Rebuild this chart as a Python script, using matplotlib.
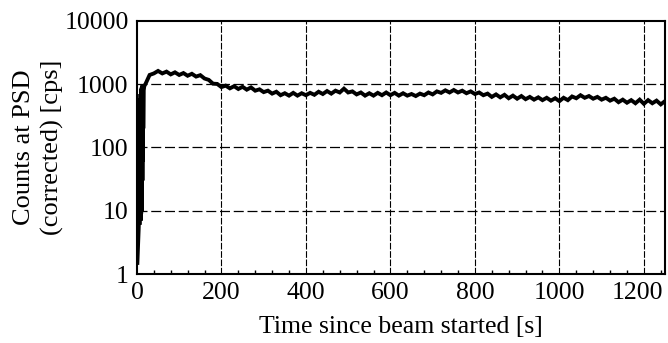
import matplotlib
matplotlib.use("Agg")
import matplotlib.pyplot as plt
from matplotlib.ticker import LogLocator, MultipleLocator, FixedLocator, FixedFormatter
from matplotlib.transforms import ScaledTranslation
import numpy as np

# --- data ---
t_early = [1, 2, 3, 4, 5, 5.5, 6, 6.5, 7, 7.5, 8, 8.5, 9, 9.5, 10, 10.5, 11, 11.5,
           12, 12.5, 13, 13.5, 14, 14.5, 15, 16, 17, 18, 19]
c_early = [1.5, 2.2, 3, 5, 8, 300, 6, 500, 7, 600, 8, 700, 7, 800, 9, 850, 10, 900,
           12, 950, 30, 950, 60, 980, 200, 800, 900, 950, 980]

t_main = list(range(20, 1251, 10))
c_main = [1000, 1400, 1480, 1620, 1480, 1580, 1430, 1540, 1400, 1500,
          1360, 1460, 1320, 1390, 1230, 1170, 1020, 1010, 900, 950,
          860, 930, 840, 910, 820, 890, 790, 830, 750, 790,
          710, 760, 670, 720, 660, 730, 660, 720, 670, 730,
          680, 760, 700, 780, 710, 790, 740, 850, 740, 770,
          690, 740, 660, 720, 660, 730, 670, 740, 670, 730,
          660, 720, 660, 700, 650, 710, 670, 740, 690, 770,
          730, 800, 740, 810, 740, 790, 720, 770, 700, 740,
          670, 710, 630, 690, 620, 680, 600, 660, 590, 650,
          580, 630, 570, 620, 560, 610, 550, 600, 540, 610,
          560, 640, 600, 670, 610, 650, 590, 630, 570, 610,
          550, 590, 520, 570, 510, 560, 500, 570, 490, 560,
          500, 550, 480, 540]

x_ticks = [0, 200, 400, 600, 800, 1000, 1200]
y_ticks = [1, 10, 100, 1000, 10000]
y_tick_labels = ["1", "10", "100", "1000", "10000"]

time = t_early + t_main
counts = c_early + c_main

plt.rcParams['font.family'] = ['Liberation Serif', 'DejaVu Serif']
fig = plt.figure(figsize=(6.68, 3.43), dpi=100)
ax = fig.add_axes([0.205, 0.201, 0.7905, 0.738])

ax.plot(time, counts, color='black', lw=2.8, solid_joinstyle='miter')

ax.set_yscale('log')
ax.set_xlim(0, 1250)
ax.set_ylim(1, 10000)

ax.xaxis.set_major_locator(FixedLocator(x_ticks))
ax.xaxis.set_minor_locator(MultipleLocator(40))
ax.yaxis.set_major_locator(FixedLocator(y_ticks))
ax.yaxis.set_major_formatter(FixedFormatter(y_tick_labels))
ax.yaxis.set_minor_locator(LogLocator(base=10, subs=np.arange(2, 10)))
ax.yaxis.set_minor_formatter(plt.NullFormatter())

ax.tick_params(axis='both', which='major', direction='in', length=0, labelsize=18.5, pad=6)
ax.tick_params(axis='both', which='minor', direction='in', length=3, width=1)

for yv in [10, 100, 1000]:
    ax.axhline(yv, color='black', lw=0.9, ls=(0, (8, 3)), zorder=0.5)
for xv in [200, 400, 600, 800, 1000, 1200]:
    ax.axvline(xv, color='black', lw=0.8, ls=(0, (6, 1.5)), zorder=0.5)

for s in ax.spines.values():
    s.set_linewidth(1.5)

# keep the last x tick label inside the figure, as in the reference
last = ax.get_xticklabels()[-1]
last.set_transform(last.get_transform() + ScaledTranslation(-6 / 100, 0, fig.dpi_scale_trans))

ax.set_xlabel("Time since beam started [s]", fontsize=18.5, labelpad=8)
ax.set_ylabel("Counts at PSD\n(corrected) [cps]", fontsize=19, labelpad=0, linespacing=1.32)

fig.savefig("out.png", dpi=100)
